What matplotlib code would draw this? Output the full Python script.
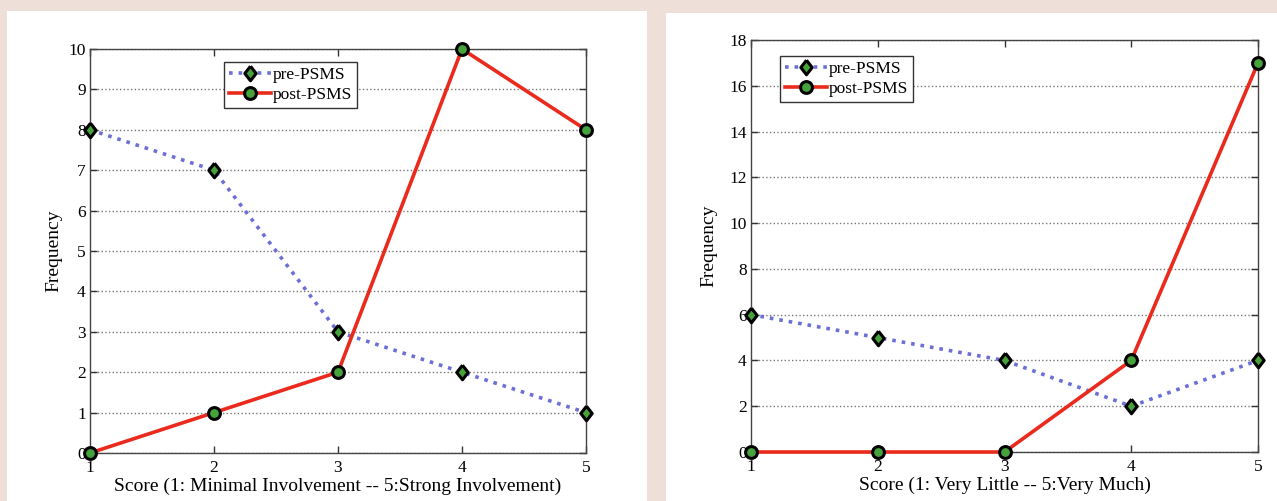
import numpy as np
import matplotlib
matplotlib.use("Agg")
import matplotlib.pyplot as plt
from matplotlib.patches import Rectangle

scores = [1, 2, 3, 4, 5]
series_names = ["pre-PSMS", "post-PSMS"]

# involvement chart (left)
involve_pre = [8, 7, 3, 2, 1]
involve_post = [0, 1, 2, 10, 8]
involve_yticks = [0, 1, 2, 3, 4, 5, 6, 7, 8, 9, 10]
involve_xlabel = "Score (1: Minimal Involvement -- 5:Strong Involvement)"

# enjoyment chart (right)
much_pre = [6, 5, 4, 2, 4]
much_post = [0, 0, 0, 4, 17]
much_yticks = [0, 2, 4, 6, 8, 10, 12, 14, 16, 18]
much_xlabel = "Score (1: Very Little -- 5:Very Much)"

BG = "#eee0d8"
BLUE = "#6b6fd6"
RED = "#ea2a1c"
GREEN = "#46a23a"

# diamond a bit narrower than tall, like the matlab one
DIAMOND = [(0, 1), (0.78, 0), (0, -1), (-0.78, 0), (0, 1)]

plt.rcParams["font.family"] = ["Liberation Serif", "DejaVu Serif"]


def graph(ax, pre, post, yticks, xlabel, leg_anchor, ylab_x):
    ax.plot(scores, pre, linestyle=":", color=BLUE, linewidth=2.6,
            marker=DIAMOND, markersize=10.5, markerfacecolor=GREEN,
            markeredgecolor="black", markeredgewidth=2.2,
            label=series_names[0], zorder=3, clip_on=False)
    ax.plot(scores, post, linestyle="-", color=RED, linewidth=2.6,
            marker="o", markersize=8.5, markerfacecolor=GREEN,
            markeredgecolor="black", markeredgewidth=2.2,
            label=series_names[1], zorder=4, clip_on=False)

    ax.set_xlim(scores[0], scores[-1])
    ax.set_ylim(yticks[0], yticks[-1])
    ax.set_xticks(scores)
    ax.set_yticks(yticks)
    ax.yaxis.grid(True, linestyle=":", color="#777777", linewidth=1.0)
    ax.set_axisbelow(True)

    ax.tick_params(direction="in", top=True, right=True, length=5,
                   width=1, color="#333333", labelsize=12.5, pad=3)
    ax.tick_params(axis="x", pad=5)
    for s in ax.spines.values():
        s.set_color("#444444")
        s.set_linewidth(1.0)

    ax.set_xlabel(xlabel, fontsize=14, labelpad=1)
    ax.set_ylabel("Frequency", fontsize=14)
    ax.yaxis.set_label_coords(ylab_x, 0.5)

    leg = ax.legend(loc="upper left", bbox_to_anchor=leg_anchor,
                    fontsize=12.5, fancybox=False, framealpha=1,
                    edgecolor="#333333", handlelength=2.4,
                    handletextpad=0.1, borderpad=0.3, labelspacing=0.2,
                    borderaxespad=0)
    leg.get_frame().set_linewidth(1.0)


fig = plt.figure(figsize=(12.77, 5.01), dpi=100)
fig.patch.set_facecolor(BG)

# white panels behind each chart
fig.patches.append(Rectangle((7 / 1277, 0), 640 / 1277, 1 - 11 / 501,
                             transform=fig.transFigure, facecolor="white",
                             edgecolor="none", zorder=-10))
fig.patches.append(Rectangle((666 / 1277, 0), 611 / 1277, 1 - 13 / 501,
                             transform=fig.transFigure, facecolor="white",
                             edgecolor="none", zorder=-10))

ax1 = fig.add_axes([90 / 1277, 1 - 453 / 501, 496 / 1277, 404 / 501])
ax2 = fig.add_axes([751 / 1277, 1 - 452 / 501, 507 / 1277, 412 / 501])

graph(ax1, involve_pre, involve_post, involve_yticks, involve_xlabel,
      (0.27, 0.968), -0.056)
graph(ax2, much_pre, much_post, much_yticks, much_xlabel,
      (0.057, 0.961), -0.067)

plt.savefig("out.png", dpi=100, facecolor=BG)
plt.close()
